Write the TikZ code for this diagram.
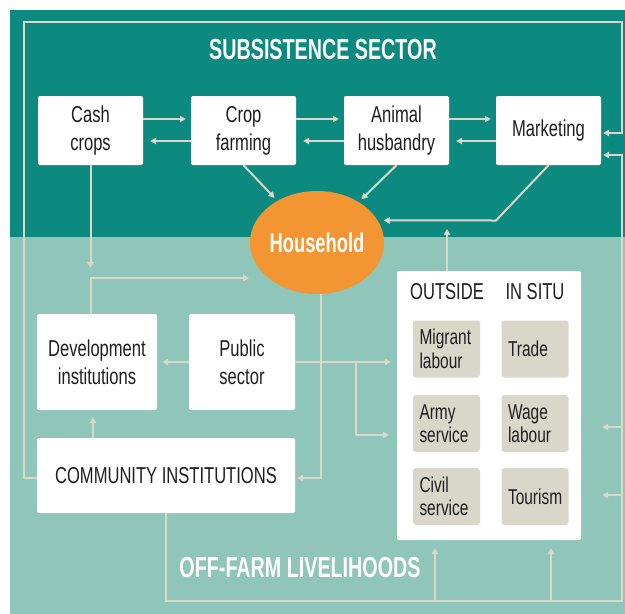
\documentclass[tikz,border=0pt]{standalone}
\usepackage{fontspec}
\setmainfont[FakeStretch=0.72]{Liberation Sans}
\newfontfamily\headfont[FakeStretch=0.68]{Liberation Sans}
\usetikzlibrary{calc, positioning, arrows.meta, shapes.geometric}
\definecolor{darkteal}{RGB}{12,138,128}
\definecolor{lightteal}{RGB}{143,198,185}
\definecolor{linebeige}{RGB}{218,216,202}
\definecolor{hhorange}{RGB}{243,149,50}
\definecolor{activitygray}{RGB}{217,215,201}
\definecolor{inktext}{RGB}{30,30,30}

\begin{document}
\begin{tikzpicture}[x=1pt, y=-1pt,
    box/.style={rectangle, fill=white, rounded corners=2pt, align=center, inner sep=0pt,
        text=inktext, font=\fontsize{23}{28}\selectfont},
    activity/.style={rectangle, fill=activitygray, rounded corners=3pt, minimum width=67pt,
        minimum height=57pt, text width=54pt, align=left, inner sep=0pt,
        text=inktext, font=\fontsize{21.5}{23.5}\selectfont},
    colhead/.style={text=inktext, inner sep=0pt, font=\fontsize{23}{28}\selectfont},
    heading/.style={text=white, inner sep=0pt, font=\headfont\bfseries\fontsize{29}{30}\selectfont},
    flow/.style={draw=linebeige, line width=2pt},
    arr/.style={flow, -{Triangle[length=6pt, width=6.5pt]}}]
        \useasboundingbox (0,0) rectangle (625,614);
        \fill[darkteal] (10,10) rectangle (625,237);
        \fill[lightteal] (10,237) rectangle (625,614);

        \node[heading] (subsistence) at (323,50) {SUBSISTENCE SECTOR};
        \node[heading] (offfarmlabel) at (300,568) {OFF-FARM LIVELIHOODS};

        \node[box, minimum width=105pt, minimum height=69pt] (cash) at (90.5,130.5) {Cash\\crops};
        \node[box, minimum width=105pt, minimum height=69pt] (crop) at (243.5,130.5) {Crop\\farming};
        \node[box, minimum width=105pt, minimum height=69pt] (animal) at (396.5,130.5) {Animal\\husbandry};
        \node[box, minimum width=105pt, minimum height=69pt] (market) at (548.5,130.5) {Marketing};

        \node[ellipse, fill=hhorange, minimum width=134pt, minimum height=103pt, inner sep=0pt,
            text=white, font=\headfont\bfseries\fontsize{27}{28}\selectfont] (household) at (317,242.5) {Household};

        \node[box, minimum width=120pt, minimum height=96pt] (devinst) at (97,362) {Development\\institutions};
        \node[box, minimum width=106pt, minimum height=96pt] (public) at (242,362) {Public\\sector};
        \node[box, minimum width=258pt, minimum height=75pt] (community) at (166,475.5) {COMMUNITY INSTITUTIONS};

        \node[box, minimum width=184pt, minimum height=269pt] (offfarm) at (489,405.5) {};
        \node[colhead] (outside) at (447,292) {OUTSIDE};
        \node[colhead] (insitu) at (535,292) {IN SITU};
        \node[activity] (migrant) at (446.5,349) {Migrant\\labour};
        \node[activity] (army) at (446.5,423.5) {Army\\service};
        \node[activity] (civil) at (446.5,496.5) {Civil\\service};
        \node[activity] (trade) at (535,349) {Trade};
        \node[activity] (wage) at (535,423.5) {Wage\\labour};
        \node[activity] (tourism) at (535,496.5) {Tourism};

        \coordinate (cashdrop) at (90.5,268);
        \coordinate (hhleft) at (249,278);
        \coordinate (mktbend) at (496,220.5);
        \coordinate (outtip) at (447,229);
        \coordinate (pubsplit) at (356,362);

        \foreach \a/\b in {cash/crop, crop/animal, animal/market} {
            \draw[arr, shorten >=5pt] (\a.east |- 0,119) -- (\b.west |- 0,119);
            \draw[arr, shorten >=7pt] (\b.west |- 0,141) -- (\a.east |- 0,141);
        }
        \draw[arr, shorten >=4pt] (crop.south) -- (household);
        \draw[arr, shorten >=4pt] (animal.south) -- (household);
        \draw[arr, shorten >=6pt] (market.south) -- (mktbend) -- (household.20);

        \draw[arr] (cash.south) -- (cashdrop);
        \draw[arr] (devinst.north -| cash.south) |- (hhleft);
        \draw[arr, shorten >=7pt] (community.north -| 93,0) -- (devinst.south -| 93,0);
        \draw[arr, shorten >=5pt] (public.west) -- (devinst.east);
        \draw[arr, shorten >=6pt] (public.east) -- (offfarm.west |- public.east);
        \draw[arr, shorten >=8pt] (pubsplit) |- (offfarm.west |- 0,435);
        \draw[arr, shorten >=2pt] (household.south -| 321,0) |- (community.east |- 0,478);
        \draw[arr] (offfarm.north -| outside) -- (outtip);

        \draw[arr, shorten >=2pt] (community.west |- 0,478) -| (24,22) -| (622,133) -- (market.east |- 0,133);
        \draw[arr, shorten >=2pt] (community.south) |- (622,601) |- (market.east |- 0,155);
        \draw[arr, shorten >=21pt] (622,427) -- (offfarm.east |- 0,427);
        \draw[arr, shorten >=21pt] (622,495) -- (offfarm.east |- 0,495);
        \draw[arr, shorten >=8pt] (435,601) -- (offfarm.south -| 435,0);
        \draw[arr, shorten >=8pt] (551,601) -- (offfarm.south -| 551,0);
\end{tikzpicture}
\end{document}
